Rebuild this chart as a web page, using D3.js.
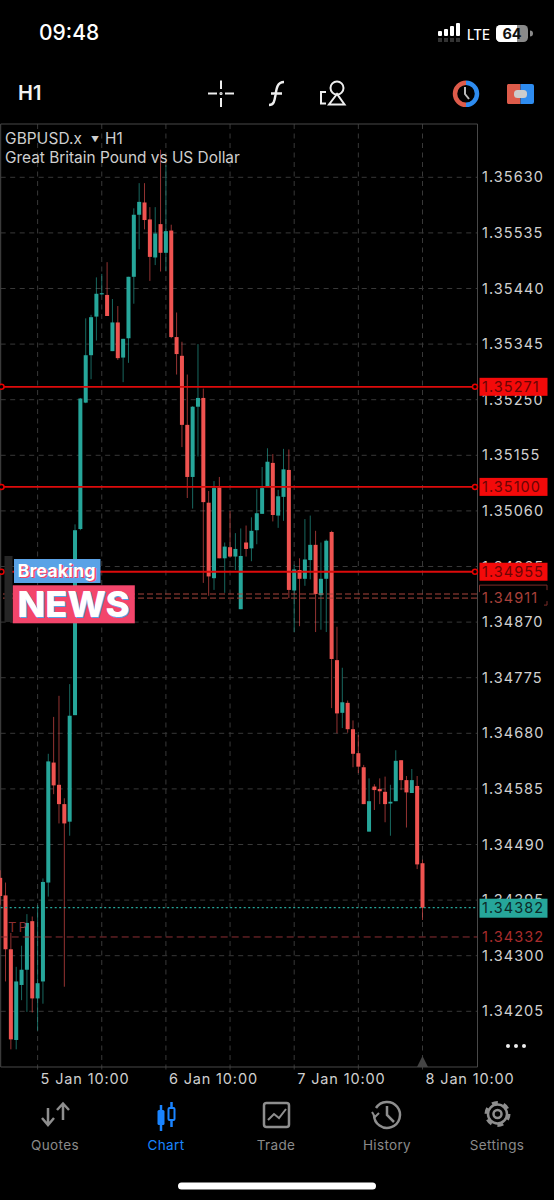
<!DOCTYPE html>
<html><head><meta charset="utf-8">
<script src="https://cdn.jsdelivr.net/npm/d3@7/dist/d3.min.js"></script>
<style>html,body{margin:0;padding:0;background:#000}svg{display:block}text{font-family:Inter,Roboto,sans-serif}</style>
</head><body><div id="c"></div>
<script>
const opens=[1.34433,1.34403,1.34311,1.34156,1.34250,1.34276,1.34359,1.34227,1.34256,1.34425,1.34630,1.34592,1.34559,1.34529,1.34711,1.35029,1.35245,1.35326,1.35392,1.35430,1.35429,1.35333,1.35382,1.35322,1.35355,1.35460,1.35566,1.35587,1.35558,1.35493,1.35550,1.35501,1.35539,1.35357,1.35325,1.35207,1.35118,1.35238,1.35253,1.35074,1.34945,1.35100,1.34979,1.34998,1.34982,1.34892,1.35006,1.34996,1.35027,1.35055,1.35101,1.35142,1.35052,1.35084,1.35130,1.34924,1.34959,1.34944,1.34976,1.35002,1.34916,1.34944,1.35024,1.34805,1.34715,1.34732,1.34687,1.34646,1.34622,1.34512,1.34589,1.34585,1.34580,1.34560,1.34564,1.34634,1.34600,1.34578,1.34590,1.34458];
const closes=[1.34402,1.34311,1.34157,1.34256,1.34276,1.34356,1.34227,1.34253,1.34426,1.34632,1.34591,1.34559,1.34526,1.34710,1.35027,1.35252,1.35326,1.35391,1.35431,1.35432,1.35393,1.35382,1.35321,1.35354,1.35460,1.35566,1.35588,1.35557,1.35494,1.35534,1.35501,1.35538,1.35357,1.35328,1.35207,1.35118,1.35238,1.35253,1.35075,1.34948,1.35099,1.34979,1.34999,1.34982,1.34995,1.34983,1.34995,1.35026,1.35056,1.35099,1.35144,1.35053,1.35085,1.35131,1.34925,1.34960,1.34944,1.34977,1.35002,1.34918,1.34944,1.35009,1.34807,1.34714,1.34733,1.34687,1.34645,1.34623,1.34559,1.34564,1.34583,1.34581,1.34559,1.34563,1.34633,1.34600,1.34579,1.34600,1.34456,1.34382];
const highs=[1.34446,1.34425,1.34339,1.34281,1.34317,1.34371,1.34367,1.34387,1.34432,1.34645,1.34708,1.34744,1.34569,1.34764,1.35037,1.35253,1.35389,1.35395,1.35459,1.35465,1.35485,1.35422,1.35410,1.35354,1.35460,1.35577,1.35620,1.35620,1.35579,1.35579,1.35677,1.35651,1.35549,1.35399,1.35349,1.35293,1.35239,1.35345,1.35269,1.35094,1.35111,1.35118,1.35006,1.35060,1.35022,1.35030,1.35035,1.35049,1.35097,1.35135,1.35167,1.35157,1.35096,1.35166,1.35165,1.34968,1.34979,1.35046,1.35052,1.35026,1.35006,1.35011,1.35026,1.34862,1.34792,1.34736,1.34702,1.34677,1.34626,1.34603,1.34593,1.34603,1.34606,1.34592,1.34651,1.34634,1.34607,1.34619,1.34607,1.34464];
const lows=[1.34387,1.34256,1.34140,1.34140,1.34224,1.34204,1.34203,1.34172,1.34218,1.34401,1.34576,1.34526,1.34247,1.34505,1.34711,1.35027,1.35244,1.35285,1.35351,1.35429,1.35393,1.35333,1.35318,1.35280,1.35313,1.35414,1.35507,1.35541,1.35453,1.35480,1.35469,1.35470,1.35355,1.35293,1.35169,1.35082,1.35064,1.35153,1.34937,1.34915,1.34925,1.34979,1.34920,1.34980,1.34959,1.34892,1.34982,1.34974,1.35003,1.35055,1.35101,1.35042,1.35031,1.35043,1.34911,1.34853,1.34863,1.34932,1.34943,1.34853,1.34857,1.34853,1.34723,1.34680,1.34689,1.34681,1.34622,1.34612,1.34559,1.34512,1.34549,1.34559,1.34528,1.34505,1.34564,1.34583,1.34519,1.34578,1.34448,1.34361];
const priceTicks=[1.35630,1.35535,1.35440,1.35345,1.35250,1.35155,1.35060,1.34965,1.34870,1.34775,1.34680,1.34585,1.34490,1.34395,1.34300,1.34205];
const dateLabels=["5 Jan 10:00","6 Jan 10:00","7 Jan 10:00","8 Jan 10:00"];
const dateHours=[0,24,48,72];
const gridHours=[0,12,24,36,48,60,72];
const redLevels=[1.35271,1.35100,1.34955];
const pendingLevels=[1.34918,1.34911];
const tpLevel=1.34332, bidPrice=1.34382;
const tabs=["Quotes","Chart","Trade","History","Settings"];

const TEAL="#26a69a",RED="#ef5350",GRID="#383838",L=0.7,R=477.5,T=124,B=1067;
const fmt=d3.format(".5f");
const y=d3.scaleLinear().domain([1.35630,1.34205]).range([177.3,1011.3]);
const x=d3.scaleLinear().domain([0,24]).range([37.6,165.9]);
const svg=d3.select("#c").append("svg").attr("width",554).attr("height",1200).attr("viewBox","0 0 554 1200");
svg.append("rect").attr("width",554).attr("height",1200).attr("fill","#000");
const defs=svg.append("defs");
defs.append("clipPath").attr("id","plot").append("rect").attr("x",0).attr("y",T).attr("width",R).attr("height",B-T);

/* grid */
const grid=svg.append("g").attr("fill","none").attr("stroke",GRID);
grid.selectAll(".h").data(priceTicks).join("line").attr("x1",L).attr("x2",R).attr("y1",d=>y(d)).attr("y2",d=>y(d)).attr("stroke-dasharray","5 4.5");
grid.selectAll(".v").data(gridHours).join("line").attr("x1",d=>x(d)).attr("x2",d=>x(d)).attr("y1",T).attr("y2",B+3).attr("stroke-dasharray","5 4.5");
svg.append("path").attr("d",`M${L},${T}H${R}V${B}H${L}Z`).attr("fill","none").attr("stroke","#484848");

/* header text */
const tt=svg.append("g").attr("fill","#cfcfcf").attr("font-size",15.4);
tt.append("text").attr("x",5).attr("y",143.5).attr("letter-spacing",.15).text("GBPUSD.x");
tt.append("text").attr("x",91).attr("y",142).attr("font-size",8).text("▼");
tt.append("text").attr("x",105).attr("y",143.5).text("H1");
tt.append("text").attr("x",5).attr("y",163).text("Great Britain Pound vs US Dollar");

/* candles */
const data=opens.map((o,i)=>({h:i-7,o,c:closes[i],hi:highs[i],lo:lows[i]}));
const col=d=>d.c>=d.o?TEAL:RED;
const cg=svg.append("g").attr("clip-path","url(#plot)");
cg.selectAll(".w").data(data).join("line").attr("x1",d=>x(d.h)).attr("x2",d=>x(d.h))
  .attr("y1",d=>y(d.hi)).attr("y2",d=>y(d.lo)).attr("stroke",col).attr("stroke-opacity",.62).attr("stroke-width",1);
cg.selectAll(".b").data(data).join("rect").attr("x",d=>x(d.h)-2).attr("width",4)
  .attr("y",d=>y(Math.max(d.o,d.c))).attr("height",d=>Math.max(1.2,Math.abs(y(d.o)-y(d.c)))).attr("fill",col);

/* axis */
const axis=d3.axisRight(y).tickValues(priceTicks).tickFormat(fmt).tickSize(0).tickPadding(0);
const ag=svg.append("g").attr("transform",`translate(482,0)`).call(axis);
ag.select(".domain").remove();
ag.selectAll("text").attr("fill","#d0d0d0").attr("font-size",14.5).attr("letter-spacing",1.05).attr("font-family","Inter,Roboto,sans-serif");

/* date axis */
const dg=svg.append("g").attr("fill","#d0d0d0").attr("font-size",14.5).attr("letter-spacing",.85);
dg.selectAll("text").data(dateLabels).join("text").attr("x",(d,i)=>x(dateHours[i])+3).attr("y",1083.5).text(d=>d);

/* level lines */
svg.append("g").selectAll("line").data(pendingLevels).join("line").attr("x1",3).attr("x2",R).attr("y1",d=>y(d)).attr("y2",d=>y(d))
  .attr("stroke","#a8453c").attr("stroke-width",1).attr("stroke-dasharray","6 3");
svg.append("line").attr("x1",L).attr("x2",R).attr("y1",y(tpLevel)).attr("y2",y(tpLevel)).attr("stroke","#8c2f33").attr("stroke-dasharray","7 4");
svg.append("line").attr("x1",L).attr("x2",R).attr("y1",y(bidPrice)).attr("y2",y(bidPrice)).attr("stroke",TEAL).attr("stroke-dasharray","2 2.5").attr("stroke-width",1.2);
const rl=svg.append("g").selectAll("g").data(redLevels).join("g");
rl.append("line").attr("x1",0).attr("x2",R).attr("y1",d=>y(d)-.6).attr("y2",d=>y(d)-.6).attr("stroke","#dd0b0b").attr("stroke-width",1.8);
rl.append("circle").attr("cx",1.5).attr("cy",d=>y(d)-.6).attr("r",2.5).attr("fill","#000").attr("stroke","#e60000").attr("stroke-width",1.5);
rl.append("circle").attr("cx",475).attr("cy",d=>y(d)-.6).attr("r",2.5).attr("fill","#000").attr("stroke","#e60000").attr("stroke-width",1.5);
rl.append("rect").attr("x",479.5).attr("width",68).attr("y",d=>y(d)-9.6).attr("height",18).attr("fill","#f40a0a");
rl.append("text").attr("x",482).attr("y",d=>y(d)+4.7).attr("fill","#6b0505").attr("font-size",14.5).attr("letter-spacing",1.05).text(d=>fmt(d));

/* tags for TP, pending, bid */
svg.append("path").attr("d",`M479.5,${y(1.34911)-6}V${y(1.34911)-13}H547V${y(1.34911)-8}M547,${y(1.34911)+3}V${y(1.34911)+7}H544`).attr("fill","none").attr("stroke","#7c2c28");
svg.append("text").attr("x",482).attr("y",y(1.34911)+5).attr("fill","#a8403a").attr("font-size",14.5).attr("letter-spacing",1.05).text(fmt(1.34911));
svg.append("text").attr("x",482).attr("y",y(tpLevel)+5).attr("fill","#a82c2c").attr("font-size",14.5).attr("letter-spacing",1.05).text(fmt(tpLevel));
svg.append("rect").attr("x",479.5).attr("width",68).attr("y",y(bidPrice)-9).attr("height",19).attr("fill",TEAL);
svg.append("text").attr("x",482).attr("y",y(bidPrice)+5.5).attr("fill","#0b2a28").attr("font-size",14.5).attr("letter-spacing",1.05).text(fmt(bidPrice));
svg.append("text").attr("x",8).attr("y",932).attr("fill","#8c2f33").attr("font-size",13).attr("letter-spacing",2).text("TP");

/* news overlay */
svg.append("rect").attr("x",4.5).attr("y",556).attr("width",8).attr("height",66).attr("fill","#262626");
svg.append("rect").attr("x",14).attr("y",559).attr("width",86.5).attr("height",24).attr("fill","#5aa2e6");
svg.append("rect").attr("x",12.8).attr("y",585.3).attr("width",122).attr("height",38).attr("fill","#f3456b");
svg.append("text").attr("x",18).attr("y",577).attr("fill","#f3456b").attr("font-size",18).attr("font-weight",700).attr("transform","translate(1,1)").text("Breaking");
svg.append("text").attr("x",17.5).attr("y",576.5).attr("fill","#fff").attr("font-size",18).attr("font-weight",700).text("Breaking");
svg.append("text").attr("x",18.5).attr("y",618.3).attr("fill","#5aa2e6").attr("font-size",35).attr("font-weight",800).attr("textLength",112).attr("lengthAdjust","spacingAndGlyphs").text("NEWS");
svg.append("text").attr("x",17.5).attr("y",617).attr("fill","#fff").attr("font-size",35).attr("font-weight",800).attr("textLength",112).attr("lengthAdjust","spacingAndGlyphs").text("NEWS");

/* chart corner marks */
svg.append("path").attr("d","M422.5,1056L417,1067H428Z").attr("fill","#444");
svg.selectAll(".dot").data([508,516,524]).join("circle").attr("cx",d=>d).attr("cy",1046).attr("r",2).attr("fill","#eee");

/* status bar */
svg.append("text").attr("x",39).attr("y",40).attr("fill","#fff").attr("font-size",21).attr("font-weight",500).text("09:48");
const sb=svg.append("g");
[[438,5],[444,7],[450,10],[456,13]].forEach(([bx,h])=>{
  sb.append("rect").attr("x",bx).attr("y",36-h).attr("width",4).attr("height",h).attr("rx",1).attr("fill","#fff");
  sb.append("rect").attr("x",bx).attr("y",38).attr("width",4).attr("height",4).attr("fill","#333");
});
sb.append("text").attr("x",467).attr("y",40).attr("fill","#fff").attr("font-size",14).attr("font-weight",500).attr("textLength",23).attr("lengthAdjust","spacingAndGlyphs").text("LTE");
sb.append("rect").attr("x",496).attr("y",25).attr("width",32).attr("height",17).attr("rx",4.5).attr("fill","#8a8a8a");
sb.append("path").attr("d","M500.5,25H517V42H500.5A4.5,4.5 0 0 1 496,37.5V29.5A4.5,4.5 0 0 1 500.5,25Z").attr("fill","#fff");
sb.append("text").attr("x",512).attr("y",39).attr("text-anchor","middle").attr("fill","#111").attr("font-size",14.5).attr("font-weight",700).text("64");
sb.append("path").attr("d","M530,30.5a3,3 0 0 1 0,6Z").attr("fill","#8a8a8a");

/* toolbar */
const tb=svg.append("g").attr("fill","none").attr("stroke","#eee").attr("stroke-width",2);
svg.append("text").attr("x",18).attr("y",100).attr("fill","#f2f2f2").attr("font-size",20).attr("font-weight",600).text("H1");
tb.append("path").attr("d","M208,93.5H217M225,93.5H234M221,80.5V89M221,98V107");
tb.append("circle").attr("cx",221).attr("cy",93.5).attr("r",.6);
tb.append("path").attr("d","M269,105C274,105 274.5,101 275.5,95C276.5,88 277.5,82 284,82M271,93.5H282").attr("stroke-width",2.4);
tb.append("path").attr("d","M326,92H321V103.5H326").attr("stroke-width",2);
tb.append("circle").attr("cx",337).attr("cy",88).attr("r",6.5);
tb.append("path").attr("d","M337,94L329,104.5H344.5Z");
const clk=svg.append("g").attr("fill","none").attr("stroke-width",4.5);
clk.append("path").attr("d","M466,82.8A11,11 0 0 0 466,104.8").attr("stroke","#dd5b4a");
clk.append("path").attr("d","M466,82.8A11,11 0 0 1 466,104.8").attr("stroke","#2e8cf0");
clk.append("path").attr("d","M465,87V94L469,99").attr("stroke","#bbb").attr("stroke-width",2);
svg.append("path").attr("d","M508,84H520.5V104H508A2,2 0 0 1 507,102V86A2,2 0 0 1 508,84Z").attr("fill","#dd5b4a");
svg.append("path").attr("d","M520.5,84H532A2,2 0 0 1 534,86V102A2,2 0 0 1 532,104H520.5Z").attr("fill","#2e8cf0");
svg.append("rect").attr("x",514).attr("y",90).attr("width",13).attr("height",8).attr("rx",3.5).attr("fill","#ccc");

/* tab bar */
const tabX=[55,166,276,387,497];
svg.append("g").selectAll("text").data(tabs).join("text").attr("x",(d,i)=>tabX[i]).attr("y",1149.5).attr("text-anchor","middle")
  .attr("font-size",13.5).attr("letter-spacing",.35).attr("fill",d=>d==="Chart"?"#1a84ff":"#8a8a8a").text(d=>d);
const ic=svg.append("g").attr("fill","none").attr("stroke","#8e8e8e").attr("stroke-width",2.5);
ic.append("path").attr("d","M48,1108V1125M42,1118L48,1125L54,1118M63,1120V1104M57,1110L63,1103.5L69,1110");
const bl="#1a84ff";
svg.append("rect").attr("x",157.5).attr("y",1110).attr("width",7).attr("height",15).attr("rx",1.5).attr("fill",bl);
svg.append("path").attr("d","M161,1105V1131").attr("stroke",bl).attr("stroke-width",2.5);
svg.append("rect").attr("x",168.5).attr("y",1108).attr("width",6).attr("height",12).attr("rx",1).attr("fill","none").attr("stroke",bl).attr("stroke-width",2);
svg.append("path").attr("d","M171.5,1102V1108M171.5,1120V1127").attr("stroke",bl).attr("stroke-width",2.5);
ic.append("rect").attr("x",264).attr("y",1103).attr("width",25).attr("height",24).attr("rx",2.5);
ic.append("path").attr("d","M268,1120L274,1114L279,1118L286,1109").attr("stroke-width",2);
ic.append("path").attr("d","M376,1108A13,13 0 1 1 374,1115");
ic.append("path").attr("d","M372,1112L375,1117L379,1113").attr("stroke-width",2);
ic.append("path").attr("d","M387,1106V1115L394,1122");
ic.append("circle").attr("cx",497.5).attr("cy",1114).attr("r",9.5);
ic.append("circle").attr("cx",497.5).attr("cy",1114).attr("r",4).attr("stroke-width",2.5);
ic.append("circle").attr("cx",497.5).attr("cy",1114).attr("r",11.5).attr("stroke-width",3).attr("stroke-dasharray","6 6.04");

/* home indicator */
svg.append("rect").attr("x",178).attr("y",1182.5).attr("width",198).attr("height",7).attr("rx",3.5).attr("fill","#fff");
</script></body></html>
